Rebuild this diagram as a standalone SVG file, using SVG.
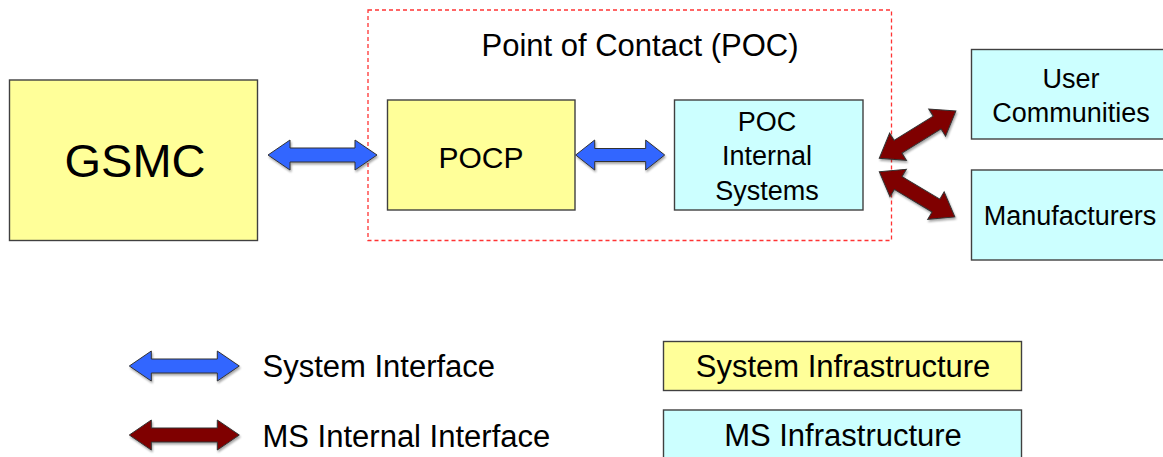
<svg xmlns="http://www.w3.org/2000/svg" width="1163" height="457" viewBox="0 0 1163 457">
<style>
.t{font-family:"Liberation Sans",Arial,sans-serif;fill:#000;text-anchor:middle}
.ys{fill:#FFFF99;stroke:#404040;stroke-width:1.4}
.cy{fill:#CCFFFF;stroke:#404040;stroke-width:1.4}
.blue{fill:#3366FF;stroke:#333;stroke-width:1}
.red{fill:#7F0000;stroke:#333;stroke-width:1}
</style>
<defs>
<filter id="sh" x="-10%" y="-30%" width="130%" height="170%">
<feGaussianBlur in="SourceAlpha" stdDeviation="1.2"/>
<feOffset dx="1" dy="1.5" result="b"/>
<feComponentTransfer><feFuncA type="linear" slope="0.35"/></feComponentTransfer>
<feMerge><feMergeNode/><feMergeNode in="SourceGraphic"/></feMerge>
</filter>
</defs>
<rect width="1163" height="457" fill="#fff"/>

<g id="poc-group">
<rect x="368" y="10" width="523.5" height="230.5" fill="none" stroke="#FF3333" stroke-width="1.3" stroke-dasharray="4 3"/>
<text class="t" x="640" y="56" font-size="31">Point of Contact (POC)</text>
</g>

<g id="gsmc">
<rect class="ys" x="9.5" y="80" width="248" height="160.5"/>
<text class="t" x="135" y="176.5" font-size="47">GSMC</text>
</g>

<g id="pocp">
<rect class="ys" x="387.5" y="100" width="187.5" height="110"/>
<text class="t" x="481" y="168" font-size="30">POCP</text>
</g>

<g id="poc-internal">
<rect class="cy" x="674.5" y="100" width="188.5" height="110"/>
<text class="t" x="767" y="130.5" font-size="27">POC</text>
<text class="t" x="767" y="165" font-size="27">Internal</text>
<text class="t" x="767" y="199.5" font-size="27">Systems</text>
</g>

<g id="user-communities">
<rect class="cy" x="971.5" y="49.5" width="200" height="89.5"/>
<text class="t" x="1071" y="87.5" font-size="27">User</text>
<text class="t" x="1071" y="121.5" font-size="27">Communities</text>
</g>

<g id="manufacturers">
<rect class="cy" x="971.5" y="170" width="200" height="90"/>
<text class="t" x="1070" y="225" font-size="27">Manufacturers</text>
</g>

<g id="connectors" filter="url(#sh)">
<path class="blue" transform="translate(268,155)" d="M0,0 L22,-15 L22,-7 L87,-7 L87,-15 L109,0 L87,15 L87,7 L22,7 L22,15 Z"/>
<path class="blue" transform="translate(575.7,155)" d="M0,0 L19,-15 L19,-6.5 L70,-6.5 L70,-15 L89,0 L70,15 L70,6.5 L19,6.5 L19,15 Z"/>
<path class="red" transform="translate(879.3,158.3) rotate(-31.7)" d="M0,0 L22,-16 L22,-7.5 L68,-7.5 L68,-16 L90,0 L68,16 L68,7.5 L22,7.5 L22,16 Z"/>
<path class="red" transform="translate(879.3,171.7) rotate(30.9)" d="M0,0 L22,-16 L22,-7.5 L66,-7.5 L66,-16 L88,0 L66,16 L66,7.5 L22,7.5 L22,16 Z"/>
</g>

<g id="legend">
<g id="legend-system-interface">
<path class="blue" filter="url(#sh)" transform="translate(129.3,366)" d="M0,0 L22,-15 L22,-7 L88,-7 L88,-15 L110,0 L88,15 L88,7 L22,7 L22,15 Z"/>
<text x="262.5" y="377" font-size="31" style="font-family:'Liberation Sans',Arial,sans-serif">System Interface</text>
</g>
<g id="legend-ms-internal-interface">
<path class="red" filter="url(#sh)" transform="translate(129.3,435)" d="M0,0 L22,-15 L22,-7 L88,-7 L88,-15 L110,0 L88,15 L88,7 L22,7 L22,15 Z"/>
<text x="262.5" y="447" font-size="31" style="font-family:'Liberation Sans',Arial,sans-serif">MS Internal Interface</text>
</g>
<g id="legend-system-infrastructure">
<rect class="ys" x="663.5" y="341.5" width="358" height="49"/>
<text class="t" x="843" y="377" font-size="31">System Infrastructure</text>
</g>
<g id="legend-ms-infrastructure">
<rect class="cy" x="663.5" y="410" width="358" height="60"/>
<text class="t" x="843" y="446" font-size="31">MS Infrastructure</text>
</g>
</g>
</svg>
